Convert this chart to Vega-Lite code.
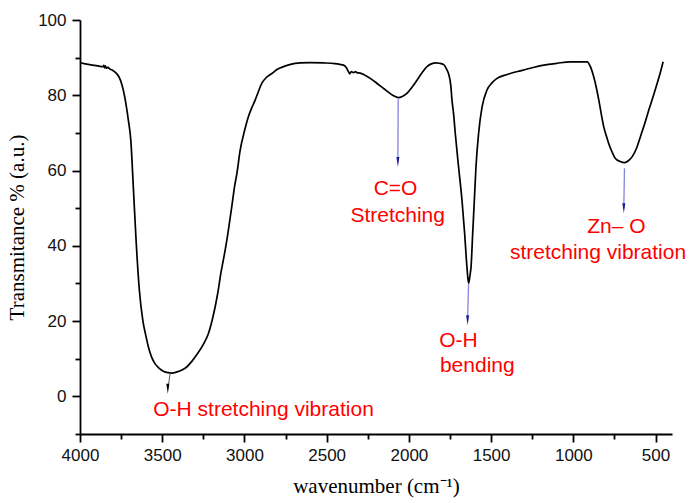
{
  "$schema": "https://vega.github.io/schema/vega-lite/v6.json",
  "width": 592,
  "height": 414,
  "autosize": {"type": "none"},
  "padding": {"left": 80, "top": 20, "right": 19, "bottom": 69},
  "background": "white",
  "config": {
    "view": {"stroke": null},
    "axis": {
      "grid": false, "labelOverlap": false, "labelFlush": false,
      "domainColor": "black", "domainWidth": 1.8, "tickColor": "black", "tickWidth": 1.8,
      "labelFont": "Liberation Sans", "labelFontSize": 17, "labelColor": "#111",
      "titleFont": "Liberation Serif", "titleFontSize": 21, "titleFontWeight": "normal", "titleColor": "black"
    }
  },
  "resolve": {"axis": {"x": "independent", "y": "independent"}},
  "layer": [
    {
      "data": {"values": [
        {"w":4000,"T":88.7},{"w":3975,"T":88.4},{"w":3950,"T":88.2},{"w":3925,"T":88.0},{"w":3900,"T":87.9},
        {"w":3880,"T":87.7},{"w":3860,"T":87.6},{"w":3855,"T":87.95},{"w":3850,"T":87.3},{"w":3845,"T":87.8},{"w":3840,"T":87.2},
        {"w":3830,"T":87.4},{"w":3820,"T":87.0},{"w":3800,"T":86.6},{"w":3780,"T":85.9},{"w":3760,"T":84.6},
        {"w":3745,"T":82.8},{"w":3730,"T":80.0},{"w":3718,"T":77.0},{"w":3706,"T":73.4},{"w":3691,"T":68.0},
        {"w":3675,"T":55.0},{"w":3659,"T":41.5},{"w":3639,"T":28.2},{"w":3618,"T":20.2},{"w":3600,"T":16.2},
        {"w":3584,"T":13.1},{"w":3565,"T":10.5},{"w":3544,"T":8.7},{"w":3520,"T":7.5},{"w":3493,"T":6.7},
        {"w":3465,"T":6.3},{"w":3442,"T":6.2},{"w":3410,"T":6.5},{"w":3380,"T":7.0},{"w":3351,"T":7.8},
        {"w":3320,"T":9.3},{"w":3286,"T":11.3},{"w":3250,"T":13.8},{"w":3219,"T":16.7},{"w":3195,"T":20.5},
        {"w":3178,"T":23.8},{"w":3160,"T":28.0},{"w":3144,"T":32.6},{"w":3125,"T":37.0},{"w":3107,"T":41.5},
        {"w":3090,"T":46.5},{"w":3077,"T":50.4},{"w":3060,"T":55.8},{"w":3046,"T":59.2},{"w":3026,"T":65.4},
        {"w":3000,"T":70.5},{"w":2976,"T":74.3},{"w":2955,"T":76.7},{"w":2935,"T":78.7},{"w":2915,"T":81.0},
        {"w":2894,"T":83.2},{"w":2865,"T":84.8},{"w":2833,"T":85.8},{"w":2800,"T":86.9},{"w":2763,"T":87.6},
        {"w":2720,"T":88.2},{"w":2661,"T":88.6},{"w":2600,"T":88.7},{"w":2519,"T":88.6},{"w":2450,"T":88.4},
        {"w":2420,"T":88.2},{"w":2397,"T":88.0},{"w":2380,"T":87.3},{"w":2370,"T":86.5},{"w":2360,"T":85.7},
        {"w":2350,"T":86.3},{"w":2337,"T":86.0},{"w":2325,"T":86.3},{"w":2316,"T":86.0},{"w":2296,"T":85.9},
        {"w":2270,"T":85.4},{"w":2235,"T":84.5},{"w":2195,"T":83.2},{"w":2154,"T":81.8},{"w":2115,"T":80.5},
        {"w":2090,"T":79.8},{"w":2065,"T":79.4},{"w":2040,"T":79.7},{"w":2012,"T":80.5},{"w":1980,"T":82.2},
        {"w":1951,"T":84.0},{"w":1920,"T":86.0},{"w":1890,"T":87.6},{"w":1860,"T":88.4},{"w":1839,"T":88.6},
        {"w":1815,"T":88.5},{"w":1789,"T":88.2},{"w":1768,"T":86.7},{"w":1758,"T":85.6},{"w":1745,"T":82.5},
        {"w":1738,"T":78.7},{"w":1728,"T":75.0},{"w":1718,"T":69.9},{"w":1698,"T":61.0},{"w":1677,"T":52.1},
        {"w":1661,"T":43.3},{"w":1647,"T":34.4},{"w":1637,"T":30.0},{"w":1629,"T":32.0},{"w":1622,"T":34.4},
        {"w":1612,"T":43.3},{"w":1602,"T":52.1},{"w":1592,"T":61.0},{"w":1576,"T":69.9},{"w":1555,"T":76.9},
        {"w":1525,"T":81.4},{"w":1495,"T":83.3},{"w":1464,"T":84.5},{"w":1420,"T":85.3},{"w":1383,"T":85.8},
        {"w":1322,"T":86.5},{"w":1250,"T":87.3},{"w":1180,"T":88.0},{"w":1100,"T":88.5},{"w":1018,"T":88.9},
        {"w":960,"T":88.9},{"w":916,"T":88.9},{"w":895,"T":87.5},{"w":876,"T":84.9},{"w":860,"T":82.0},
        {"w":845,"T":78.7},{"w":830,"T":75.0},{"w":815,"T":71.6},{"w":800,"T":69.3},{"w":785,"T":67.2},
        {"w":765,"T":65.0},{"w":744,"T":63.2},{"w":715,"T":62.4},{"w":689,"T":62.1},{"w":665,"T":62.6},
        {"w":642,"T":63.7},{"w":615,"T":66.0},{"w":592,"T":69.0},{"w":565,"T":72.6},{"w":541,"T":76.1},
        {"w":515,"T":79.6},{"w":490,"T":83.2},{"w":470,"T":86.2},{"w":454,"T":88.9}
      ]},
      "mark": {"type": "line", "color": "black", "strokeWidth": 1.7, "interpolate": "monotone"},
      "encoding": {
        "x": {
          "field": "w", "type": "quantitative",
          "scale": {"domain": [400, 4000], "reverse": true, "nice": false, "zero": false},
          "axis": {
            "orient": "bottom",
            "title": "wavenumber (cm\u207B\u00B9)",
            "values": [4000,3500,3000,2500,2000,1500,1000,500],
            "format": "d",
            "tickSize": 8, "labelPadding": 5, "titlePadding": 12
          }
        },
        "y": {
          "field": "T", "type": "quantitative",
          "scale": {"domain": [-10, 100], "nice": false, "zero": false},
          "axis": {
            "orient": "left",
            "title": "Transmitance % (a.u.)",
            "values": [0,20,40,60,80,100],
            "tickSize": 8, "labelPadding": 6, "titlePadding": 10
          }
        }
      }
    },
    {
      "data": {"values": [{"w1":3452,"T1":6.1,"w2":3465,"T2":2.0}]},
      "mark": {"type": "rule", "color": "#555555", "strokeWidth": 1},
      "encoding": {
        "x": {"field": "w1", "type": "quantitative",
          "axis": {"orient": "bottom", "title": null, "labels": false, "domain": false, "tickSize": 5,
                   "values": [3750,3250,2750,2250,1750,1250,750]}},
        "y": {"field": "T1", "type": "quantitative",
          "axis": {"orient": "left", "title": null, "labels": false, "domain": false, "tickSize": 5,
                   "values": [-10,10,30,50,70,90]}},
        "x2": {"field": "w2"},
        "y2": {"field": "T2"}
      }
    },
    {
      "data": {"values": [{"w":3466,"T":2.05}]},
      "mark": {"type": "point", "shape": "M-0.3,-1L0.3,-1L0,1Z", "size": 100, "filled": true, "color": "black", "opacity": 1},
      "encoding": {
        "x": {"field": "w", "type": "quantitative", "axis": null},
        "y": {"field": "T", "type": "quantitative", "axis": null}
      }
    },
    {
      "data": {"values": [
        {"w1":2065,"T1":79.3,"w2":2067,"T2":62.3},
        {"w1":1637,"T1":30.0,"w2":1643,"T2":20.2},
        {"w1":689,"T1":60.6,"w2":693,"T2":50.0}
      ]},
      "mark": {"type": "rule", "color": "#8585dd", "strokeWidth": 1.3},
      "encoding": {
        "x": {"field": "w1", "type": "quantitative", "axis": null},
        "y": {"field": "T1", "type": "quantitative", "axis": null},
        "x2": {"field": "w2"},
        "y2": {"field": "T2"}
      }
    },
    {
      "data": {"values": [{"w":2067,"T":62.3},{"w":1643,"T":20.2},{"w":693,"T":50.0}]},
      "mark": {"type": "point", "shape": "M-0.3,-1L0.3,-1L0,1Z", "size": 100, "filled": true, "color": "#1c1c9c", "opacity": 1},
      "encoding": {
        "x": {"field": "w", "type": "quantitative", "axis": null},
        "y": {"field": "T", "type": "quantitative", "axis": null}
      }
    },
    {
      "data": {"values": [
        {"w":2884,"T":-5.3,"label":"O-H stretching vibration"},
        {"w":2081,"T":53.6,"label":"C=O"},
        {"w":2068,"T":46.4,"label":"Stretching"},
        {"w":1699,"T":13.1,"label":"O-H"},
        {"w":1584,"T":6.4,"label":"bending"},
        {"w":738,"T":43.3,"label":"Zn\u2013 O"},
        {"w":850,"T":36.4,"label":"stretching vibration"}
      ]},
      "mark": {"type": "text", "font": "Liberation Sans", "fontSize": 21, "color": "#ff0000", "align": "center", "baseline": "alphabetic"},
      "encoding": {
        "x": {"field": "w", "type": "quantitative", "axis": null},
        "y": {"field": "T", "type": "quantitative", "axis": null},
        "text": {"field": "label"}
      }
    }
  ]
}
